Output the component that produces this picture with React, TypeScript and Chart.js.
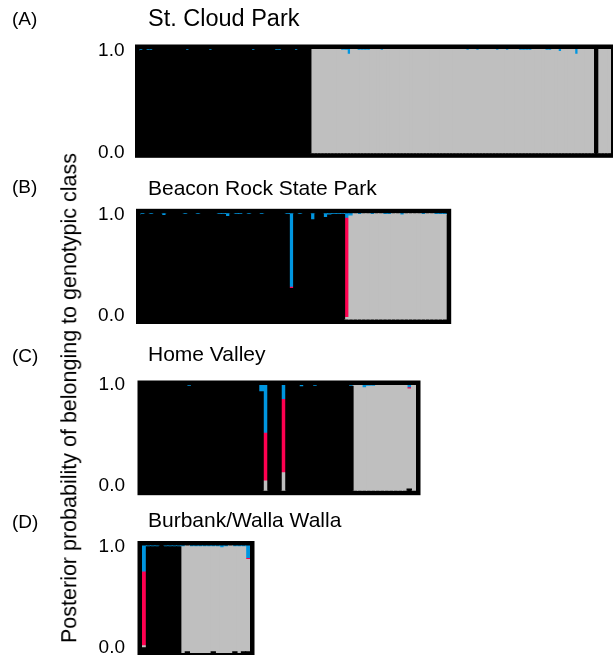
import React, { useEffect, useRef } from "react";
import { Chart, registerables } from "chart.js";

Chart.register(...registerables);

const FONT = "'Liberation Sans', Arial, Helvetica, sans-serif";
Chart.defaults.font.family = FONT;

// Cluster colours (stack order bottom -> top)
const CLUSTER_NAMES = ["Cluster 1", "Cluster 2", "Cluster 3", "Cluster 4"];
const CLUSTER_COLORS = ["#000000", "#bfbfbf", "#ff0050", "#0096e0"];

const Y_TOP_TICK = 1;
const Y_BOTTOM_TICK = 0;
const Y_AXIS_TITLE = "Posterior probability of belonging to genotypic class";

// ---------- (A) St. Cloud Park : 143 individuals ----------
const titleA = "St. Cloud Park";
const aBlack = [
  0.988, 1, 0.988, 0.988, 1, 1, 1, 1, 1, 1,
  1, 1, 1, 1, 0.988, 1, 1, 1, 1, 1,
  1, 0.988, 1, 1, 1, 1, 1, 1, 1, 1,
  1, 1, 1, 1, 0.988, 1, 1, 1, 1, 1,
  1, 0.988, 0.988, 1, 1, 1, 1, 0.988, 1, 1,
  1, 1, 0, 0, 0, 0, 0, 0, 0, 0,
  0, 0, 0, 0, 0, 0, 0, 0, 0, 0,
  0, 0, 0, 0, 0, 0, 0, 0, 0, 0,
  0, 0, 0, 0, 0, 0, 0, 0, 0, 0,
  0, 0, 0, 0, 0, 0, 0, 0, 0, 0,
  0, 0, 0, 0, 0, 0, 0, 0, 0, 0,
  0, 0, 0, 0, 0, 0, 0, 0, 0, 0,
  0, 0, 0, 0, 0, 0, 0, 0, 0, 0,
  0, 0, 0, 0, 0, 0, 0, 0, 1, 0,
  0, 0, 0,
];
const aGray = [
  0, 0, 0, 0, 0, 0, 0, 0, 0, 0,
  0, 0, 0, 0, 0, 0, 0, 0, 0, 0,
  0, 0, 0, 0, 0, 0, 0, 0, 0, 0,
  0, 0, 0, 0, 0, 0, 0, 0, 0, 0,
  0, 0, 0, 0, 0, 0, 0, 0, 0, 0,
  0, 0, 1, 1, 1, 1, 1, 1, 1, 1,
  1, 0.988, 0.988, 0.95, 1, 1, 0.988, 0.988, 0.988, 0.988,
  1, 1, 1, 0.988, 1, 1, 1, 1, 1, 1,
  1, 1, 1, 1, 1, 1, 1, 1, 1, 1,
  1, 1, 1, 1, 1, 1, 1, 1, 1, 0.988,
  1, 1, 0.988, 1, 1, 1, 1, 1, 0.988, 1,
  1, 0.988, 1, 1, 1, 0.988, 0.988, 0.988, 0.988, 1,
  1, 1, 1, 0.988, 0.988, 1, 1, 0.975, 1, 1,
  1, 1, 0.95, 1, 1, 1, 1, 1, 0, 1,
  1, 1, 1,
];
const aRed = [
  0, 0, 0, 0, 0, 0, 0, 0, 0, 0,
  0, 0, 0, 0, 0, 0, 0, 0, 0, 0,
  0, 0, 0, 0, 0, 0, 0, 0, 0, 0,
  0, 0, 0, 0, 0, 0, 0, 0, 0, 0,
  0, 0, 0, 0, 0, 0, 0, 0, 0, 0,
  0, 0, 0, 0, 0, 0, 0, 0, 0, 0,
  0, 0, 0, 0, 0, 0, 0, 0, 0, 0,
  0, 0, 0, 0, 0, 0, 0, 0, 0, 0,
  0, 0, 0, 0, 0, 0, 0, 0, 0, 0,
  0, 0, 0, 0, 0, 0, 0, 0, 0, 0,
  0, 0, 0, 0, 0, 0, 0, 0, 0, 0,
  0, 0, 0, 0, 0, 0, 0, 0, 0, 0,
  0, 0, 0, 0, 0, 0, 0, 0, 0, 0,
  0, 0, 0, 0, 0, 0, 0, 0, 0, 0,
  0, 0, 0,
];
const aBlue = [
  0.012, 0, 0.012, 0.012, 0, 0, 0, 0, 0, 0,
  0, 0, 0, 0, 0.012, 0, 0, 0, 0, 0,
  0, 0.012, 0, 0, 0, 0, 0, 0, 0, 0,
  0, 0, 0, 0, 0.012, 0, 0, 0, 0, 0,
  0, 0.012, 0.012, 0, 0, 0, 0, 0.012, 0, 0,
  0, 0, 0, 0, 0, 0, 0, 0, 0, 0,
  0, 0.012, 0.012, 0.05, 0, 0, 0.012, 0.012, 0.012, 0.012,
  0, 0, 0, 0.012, 0, 0, 0, 0, 0, 0,
  0, 0, 0, 0, 0, 0, 0, 0, 0, 0,
  0, 0, 0, 0, 0, 0, 0, 0, 0, 0.012,
  0, 0, 0.012, 0, 0, 0, 0, 0, 0.012, 0,
  0, 0.012, 0, 0, 0, 0.012, 0.012, 0.012, 0.012, 0,
  0, 0, 0, 0.012, 0.012, 0, 0, 0.025, 0, 0,
  0, 0, 0.05, 0, 0, 0, 0, 0, 0, 0,
  0, 0, 0,
];

// ---------- (B) Beacon Rock State Park : 72 individuals ----------
const titleB = "Beacon Rock State Park";
const bBlack = [
  0.988, 1, 0.988, 1, 1, 0.98, 1, 1, 1, 1,
  0.988, 1, 1, 0.988, 1, 1, 1, 1, 0.988, 0.988,
  0.97, 1, 0.988, 0.988, 1, 0.988, 1, 1, 0.988, 1,
  1, 1, 1, 1, 0.988, 0.293, 1, 0.988, 1, 1,
  0.94, 1, 1, 0.96, 0.983, 0.988, 0.988, 0.988, 0, 0,
  0, 0, 0, 0, 0, 0, 0, 0, 0, 0,
  0, 0, 0, 0, 0, 0, 0, 0, 0, 0,
  0, 0,
];
const bGray = [
  0, 0, 0, 0, 0, 0, 0, 0, 0, 0,
  0, 0, 0, 0, 0, 0, 0, 0, 0, 0,
  0, 0, 0, 0, 0, 0, 0, 0, 0, 0,
  0, 0, 0, 0, 0, 0, 0, 0, 0, 0,
  0, 0, 0, 0, 0, 0, 0, 0, 0.02, 0.975,
  1, 0.988, 1, 1, 0.988, 1, 1, 0.988, 0.988, 1,
  1, 0.983, 1, 1, 1, 1, 0.988, 1, 1, 0.988,
  0.988, 0.988,
];
const bRed = [
  0, 0, 0, 0, 0, 0, 0, 0, 0, 0,
  0, 0, 0, 0, 0, 0, 0, 0, 0, 0,
  0, 0, 0, 0, 0, 0, 0, 0, 0, 0,
  0, 0, 0, 0, 0, 0.01, 0, 0, 0, 0,
  0, 0, 0, 0, 0, 0, 0, 0, 0.933, 0,
  0, 0, 0, 0, 0, 0, 0, 0, 0, 0,
  0, 0, 0, 0, 0, 0, 0, 0, 0, 0,
  0, 0,
];
const bBlue = [
  0.012, 0, 0.012, 0, 0, 0.02, 0, 0, 0, 0,
  0.012, 0, 0, 0.012, 0, 0, 0, 0, 0.012, 0.012,
  0.03, 0, 0.012, 0.012, 0, 0.012, 0, 0, 0.012, 0,
  0, 0, 0, 0, 0.012, 0.697, 0, 0.012, 0, 0,
  0.06, 0, 0, 0.04, 0.017, 0.012, 0.012, 0.012, 0.047, 0.025,
  0, 0.012, 0, 0, 0.012, 0, 0, 0.012, 0.012, 0,
  0, 0.017, 0, 0, 0, 0, 0.012, 0, 0, 0.012,
  0.012, 0.012,
];

// ---------- (C) Home Valley : 61 individuals ----------
const titleC = "Home Valley";
const cBlack = [
  1, 1, 1, 1, 1, 1, 1, 1, 1, 1,
  0.988, 1, 1, 1, 1, 1, 1, 1, 1, 1,
  1, 1, 1, 1, 1, 1, 0.937, 0, 1, 1,
  1, 0, 1, 1, 1, 0.983, 1, 1, 0.988, 1,
  1, 1, 1, 1, 1, 1, 0.988, 0, 0, 0,
  0, 0, 0, 0, 0, 0, 0, 0, 0, 0.015,
  0,
];
const cGray = [
  0, 0, 0, 0, 0, 0, 0, 0, 0, 0,
  0, 0, 0, 0, 0, 0, 0, 0, 0, 0,
  0, 0, 0, 0, 0, 0, 0, 0.092, 0, 0,
  0, 0.17, 0, 0, 0, 0, 0, 0, 0, 0,
  0, 0, 0, 0, 0, 0, 0, 1, 1, 0.975,
  0.988, 0.988, 1, 1, 1, 1, 1, 1, 1, 0.948,
  1,
];
const cRed = [
  0, 0, 0, 0, 0, 0, 0, 0, 0, 0,
  0, 0, 0, 0, 0, 0, 0, 0, 0, 0,
  0, 0, 0, 0, 0, 0, 0, 0.451, 0, 0,
  0, 0.694, 0, 0, 0, 0, 0, 0, 0, 0,
  0, 0, 0, 0, 0, 0, 0, 0, 0, 0,
  0, 0, 0, 0, 0, 0, 0, 0, 0, 0.012,
  0,
];
const cBlue = [
  0, 0, 0, 0, 0, 0, 0, 0, 0, 0,
  0.012, 0, 0, 0, 0, 0, 0, 0, 0, 0,
  0, 0, 0, 0, 0, 0, 0.063, 0.457, 0, 0,
  0, 0.136, 0, 0, 0, 0.017, 0, 0, 0.012, 0,
  0, 0, 0, 0, 0, 0, 0.012, 0, 0, 0.025,
  0.012, 0.012, 0, 0, 0, 0, 0, 0, 0, 0.025,
  0,
];

// ---------- (D) Burbank/Walla Walla : 25 individuals ----------
const titleD = "Burbank/Walla Walla";
const dBlack = [
  0.049, 0.988, 0.988, 0.988, 1, 0.988, 0.988, 0.988, 0.988, 0,
  0.012, 0, 0, 0, 0, 0, 0.012, 0, 0, 0,
  0, 0.012, 0, 0.012, 0.012,
];
const dGray = [
  0.019, 0, 0, 0, 0, 0, 0, 0, 0, 0.988,
  0.988, 0.988, 0.988, 0.988, 0.988, 0.988, 0.976, 0.988, 0.98, 0.988,
  1, 0.976, 0.988, 0.976, 0.858,
];
const dRed = [
  0.685, 0, 0, 0, 0, 0, 0, 0, 0, 0,
  0, 0, 0, 0, 0, 0, 0, 0, 0, 0,
  0, 0, 0, 0, 0.01,
];
const dBlue = [
  0.247, 0.012, 0.012, 0.012, 0, 0.012, 0.012, 0.012, 0.012, 0.012,
  0, 0.012, 0.012, 0.012, 0.012, 0.012, 0.012, 0.012, 0.02, 0.012,
  0, 0.012, 0.012, 0.012, 0.12,
];

type Geom = { left: number; right: number; top: number; bottom: number };

const FRAME = 4.5;
const PAD_X = 12;
const PAD_Y = 34;
const TICK_FONT_SIZE = 19;

function StructurePanel(props: {
  series: number[][];
  geom: Geom;
  tickPadding: number;
  topLabelShift: number;
  bottomLabelShift: number;
}) {
  const ref = useRef<HTMLCanvasElement | null>(null);
  const { geom } = props;
  const canvasTop = Math.floor(geom.top) - PAD_Y;
  const canvasH = Math.ceil(geom.bottom) + PAD_Y - canvasTop;
  const canvasW = Math.ceil(geom.right) + PAD_X;

  useEffect(() => {
    if (!ref.current) return;
    const labels = props.series[0].map((_, i) => String(i + 1));
    const fmt = (v: any) => Number(v).toFixed(1);

    // width of the bottom label, so the mirrored inner axis can right-align it
    const mctx = document.createElement("canvas").getContext("2d")!;
    mctx.font = `normal ${TICK_FONT_SIZE}px ${FONT}`;
    const bottomLabelW = mctx.measureText(fmt(Y_BOTTOM_TICK)).width;

    const framePlugin = {
      id: "frame",
      beforeDatasetsDraw(chart: any) {
        const { ctx, chartArea: a } = chart;
        ctx.save();
        ctx.fillStyle = "#000";
        ctx.fillRect(
          a.left - FRAME,
          a.top - FRAME,
          a.right - a.left + 2 * FRAME,
          a.bottom - a.top + 2 * FRAME
        );
        ctx.restore();
      },
    };
    const tickFont = { family: FONT, size: TICK_FONT_SIZE };
    const chart = new Chart(ref.current, {
      type: "bar",
      data: {
        labels,
        datasets: props.series.map((arr, k) => ({
          label: CLUSTER_NAMES[k],
          data: arr.map((v) => (v === 0 ? null : v)),
          backgroundColor: CLUSTER_COLORS[k],
          borderWidth: 0,
          barPercentage: 1,
          categoryPercentage: 1,
          inflateAmount: 0.5,
          yAxisID: "y",
        })),
      },
      options: {
        animation: false,
        responsive: false,
        devicePixelRatio: 1,
        layout: {
          padding: {
            left: 0,
            right: canvasW - geom.right,
            top: geom.top - canvasTop,
            bottom: canvasTop + canvasH - geom.bottom,
          },
        },
        plugins: {
          legend: { display: false },
          tooltip: { enabled: false },
          title: { display: false },
        },
        scales: {
          x: { stacked: true, display: false },
          // outer axis: carries the "1.0" label
          y: {
            stacked: true,
            position: "left",
            weight: 1,
            min: 0,
            max: 1,
            afterFit: (s: any) => {
              s.width = geom.left;
            },
            afterBuildTicks: (s: any) => {
              s.ticks = [{ value: Y_TOP_TICK }];
            },
            grid: { display: false, drawTicks: false },
            border: { display: false },
            ticks: {
              padding: props.tickPadding,
              labelOffset: props.topLabelShift,
              color: "#000",
              font: tickFont,
              callback: fmt,
            },
          },
          // inner zero-width axis (same 0..1 range): carries the "0.0" label
          y0: {
            type: "linear",
            position: "left",
            weight: 0,
            min: 0,
            max: 1,
            afterFit: (s: any) => {
              s.width = 0;
            },
            afterBuildTicks: (s: any) => {
              s.ticks = [{ value: Y_BOTTOM_TICK }];
            },
            grid: { display: false, drawTicks: false },
            border: { display: false },
            ticks: {
              mirror: true,
              crossAlign: "near",
              padding: -(props.tickPadding + bottomLabelW),
              labelOffset: props.bottomLabelShift,
              color: "#000",
              font: tickFont,
              callback: fmt,
            },
          },
        },
      },
      plugins: [framePlugin],
    } as any);
    return () => chart.destroy();
  }, []);

  return (
    <canvas
      ref={ref}
      width={canvasW}
      height={canvasH}
      style={{
        position: "absolute",
        left: 0,
        top: canvasTop,
        width: canvasW,
        height: canvasH,
      }}
    />
  );
}

const textStyle: React.CSSProperties = {
  position: "absolute",
  fontFamily: FONT,
  color: "#000",
  lineHeight: 1,
  whiteSpace: "nowrap",
};

export default function App() {
  return (
    <div
      style={{
        position: "fixed",
        left: 0,
        top: 0,
        width: 613,
        height: 655,
        overflow: "hidden",
        background: "#fff",
      }}
    >
      <StructurePanel
        series={[aBlack, aGray, aRed, aBlue]}
        geom={{ left: 139.5, right: 611, top: 49, bottom: 153.3 }}
        tickPadding={15}
        topLabelShift={1.5}
        bottomLabelShift={-0.5}
      />
      <StructurePanel
        series={[bBlack, bGray, bRed, bBlue]}
        geom={{ left: 140.5, right: 446.7, top: 213.3, bottom: 319.5 }}
        tickPadding={16}
        topLabelShift={1.5}
        bottomLabelShift={-3.5}
      />
      <StructurePanel
        series={[cBlack, cGray, cRed, cBlue]}
        geom={{ left: 142, right: 416, top: 385, bottom: 490.7 }}
        tickPadding={17}
        topLabelShift={0}
        bottomLabelShift={-5}
      />
      <StructurePanel
        series={[dBlack, dGray, dRed, dBlue]}
        geom={{ left: 142, right: 250, top: 545.5, bottom: 653 }}
        tickPadding={17}
        topLabelShift={1}
        bottomLabelShift={-5.5}
      />

      <div style={{ ...textStyle, left: 12, top: 9, fontSize: 19 }}>(A)</div>
      <div style={{ ...textStyle, left: 12, top: 177, fontSize: 19 }}>(B)</div>
      <div style={{ ...textStyle, left: 12, top: 346, fontSize: 19 }}>(C)</div>
      <div style={{ ...textStyle, left: 12, top: 512, fontSize: 19 }}>(D)</div>

      <div style={{ ...textStyle, left: 148, top: 7, fontSize: 23.5 }}>{titleA}</div>
      <div style={{ ...textStyle, left: 148, top: 177, fontSize: 21 }}>{titleB}</div>
      <div style={{ ...textStyle, left: 148, top: 343, fontSize: 21 }}>{titleC}</div>
      <div style={{ ...textStyle, left: 148, top: 509, fontSize: 21 }}>{titleD}</div>

      <div
        style={{
          ...textStyle,
          left: 70,
          top: 398,
          fontSize: 21.5,
          transform: "translate(-50%, -50%) rotate(-90deg)",
        }}
      >
        {Y_AXIS_TITLE}
      </div>
    </div>
  );
}
